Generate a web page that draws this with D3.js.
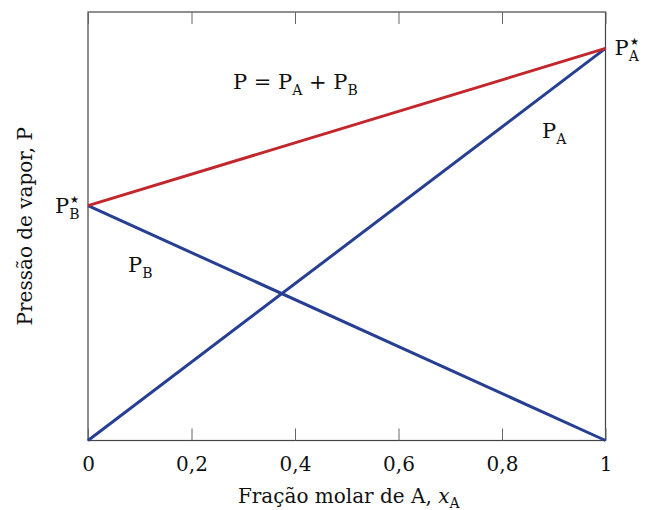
<!DOCTYPE html>
<html><head><meta charset="utf-8">
<script src="https://cdn.jsdelivr.net/npm/d3@7"></script>
<style>body{margin:0;background:#fff}text{font-family:"DejaVu Serif",serif;fill:#111}</style>
</head><body><svg id="c" width="647" height="510"></svg>
<script>
const xTicks = [0, 0.2, 0.4, 0.6, 0.8, 1];
const xTickLabels = ["0", "0,2", "0,4", "0,6", "0,8", "1"];
const PAstar = 0.915, PBstar = 0.548;
const lineP = [[0, PBstar], [1, PAstar]];
const linePA = [[0, 0], [1, PAstar]];
const linePB = [[0, PBstar], [1, 0]];

const svg = d3.select("#c");
const L = 88, R = 605.5, T = 12, B = 440.5;
const x = d3.scaleLinear().domain([0, 1]).range([L, R]);
const y = d3.scaleLinear().domain([0, 1]).range([B, T]);

// frame
svg.append("rect").attr("x", L).attr("y", T).attr("width", R - L).attr("height", B - T)
  .attr("fill", "none").attr("stroke", "#444").attr("stroke-width", 1.2);

// bottom axis (ticks inward)
const gb = svg.append("g").attr("transform", `translate(0,${B})`)
  .call(d3.axisBottom(x).tickValues(xTicks).tickFormat((d, i) => xTickLabels[i]).tickSizeInner(-12).tickSizeOuter(0).tickPadding(16));
gb.select(".domain").remove();
gb.selectAll(".tick line").attr("stroke", "#666");
gb.selectAll(".tick text").attr("font-size", 20).attr("font-family", "DejaVu Serif").attr("fill", "#111");

// top ticks
const gt = svg.append("g").attr("transform", `translate(0,${T})`)
  .call(d3.axisTop(x).tickValues(xTicks).tickFormat("").tickSizeInner(-12).tickSizeOuter(0));
gt.select(".domain").remove();
gt.selectAll(".tick line").attr("stroke", "#666");

const line = d3.line().x(d => x(d[0])).y(d => y(d[1]));
const blue = "#273f92", red = "#c1272d";
svg.append("path").datum(linePA).attr("d", line).attr("fill", "none").attr("stroke", blue).attr("stroke-width", 3);
svg.append("path").datum(linePB).attr("d", line).attr("fill", "none").attr("stroke", blue).attr("stroke-width", 3);
svg.append("path").datum(lineP).attr("d", line).attr("fill", "none").attr("stroke", red).attr("stroke-width", 3);

function sub(t, main, s, star) {
  t.append("tspan").text(main);
  if (star) {
    t.append("tspan").attr("font-size", 10).attr("dy", -10).attr("dx", 1).text("★");
    t.append("tspan").attr("font-size", 14).attr("dx", -10).attr("dy", 16).text(s);
  } else {
    t.append("tspan").attr("font-size", 14).attr("dy", 6).text(s);
  }
}

// axis titles
const tx = svg.append("text").attr("x", (L + R) / 2 + 2).attr("y", 503).attr("text-anchor", "middle").attr("font-size", 20);
tx.append("tspan").text("Fração molar de A, ");
tx.append("tspan").attr("font-style", "italic").text("x");
tx.append("tspan").attr("font-size", 14).attr("dy", 5).text("A");

svg.append("text").attr("transform", `translate(32,${(T + B) / 2}) rotate(-90)`).attr("text-anchor", "middle")
  .attr("font-size", 20).text("Pressão de vapor, P");

// annotations
sub(svg.append("text").attr("x", x(1) + 9).attr("y", y(PAstar) + 7).attr("font-size", 21), "P", "A", true);
sub(svg.append("text").attr("x", x(0) - 33).attr("y", y(PBstar) + 7).attr("font-size", 21), "P", "B", true);

const te = svg.append("text").attr("x", 233).attr("y", 89).attr("font-size", 21);
te.append("tspan").text("P = P");
te.append("tspan").attr("font-size", 14).attr("dy", 6).text("A");
te.append("tspan").attr("dy", -6).text(" + P");
te.append("tspan").attr("font-size", 14).attr("dy", 6).text("B");

sub(svg.append("text").attr("x", 542).attr("y", 138).attr("font-size", 21), "P", "A", false);
sub(svg.append("text").attr("x", 128).attr("y", 272).attr("font-size", 21), "P", "B", false);
</script></body></html>
